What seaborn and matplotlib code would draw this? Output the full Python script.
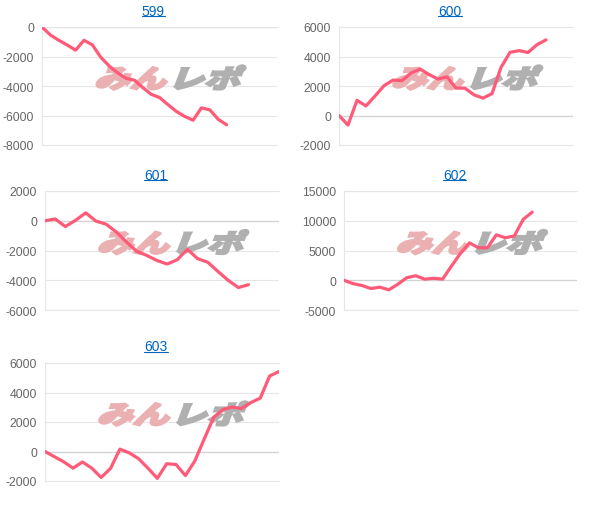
import numpy as np
import pandas as pd
import matplotlib
matplotlib.use("Agg")
import matplotlib.pyplot as plt
import seaborn as sns
from matplotlib.textpath import TextPath
from matplotlib.font_manager import FontProperties
from matplotlib.patches import PathPatch
from matplotlib.transforms import Affine2D, ScaledTranslation, IdentityTransform
from matplotlib.lines import Line2D

# data
titles = ['599', '600', '601', '602', '603']
s599 = [0, -540, -900, -1220, -1570, -900, -1210, -2050, -2640, -3100, -3480, -3600,
        -4100, -4560, -4780, -5260, -5720, -6060, -6320, -5480, -5620, -6260, -6630]
s600 = [0, -650, 1030, 650, 1320, 2020, 2400, 2360, 2880, 3150, 2780, 2470, 2620,
        1860, 1850, 1400, 1180, 1480, 3260, 4280, 4400, 4270, 4800, 5130]
s601 = [0, 120, -390, 30, 530, -20, -230, -750, -1420, -2050, -2330, -2670, -2910,
        -2620, -1920, -2550, -2790, -3410, -4000, -4490, -4300]
s602 = [0, -570, -880, -1390, -1160, -1610, -680, 420, 760, 190, 330, 190, 2400,
        4530, 6280, 5460, 5460, 7630, 7150, 7430, 10230, 11450]
s603 = [0, -350, -700, -1130, -710, -1130, -1760, -1150, 160, -90, -490, -1130, -1820,
        -830, -880, -1630, -650, 830, 2290, 2850, 3010, 2920, 3320, 3620, 5120, 5420]
series = [s599, s600, s601, s602, s603]
n_days = [29, 27, 24, 27, 26]
ylims = [(-8000, 0), (-2000, 6000), (-6000, 2000), (-5000, 15000), (-2000, 6000)]
ysteps = [2000, 2000, 2000, 5000, 2000]

# layout in pixels: left, top, right, bottom
W, H = 599, 510
boxes = [(42, 28, 277, 146), (339, 28, 573, 146), (45, 192, 279, 311),
         (344, 192, 577, 311), (45, 364, 279, 482)]

RED = '#ff5a78'
GRID = '#e6e6e6'

sns.set_style("white")
plt.rcParams['font.family'] = ['Liberation Sans', 'DejaVu Sans']

fig = plt.figure(figsize=(W / 100, H / 100), dpi=100)
wm_font = FontProperties(family='Noto Sans CJK JP', weight='black')


def watermark(ax):
    # fake logo: heavy slanted text, pink + gray
    for txt, col, dx in [('みん', '#eab0b2', 0.0), ('レポ', '#b0b0b0', 0.74)]:
        tp = TextPath((0, 0), txt, size=1, prop=wm_font)
        tr = (Affine2D().skew_deg(15, 0).scale(0.36, 0.255).translate(dx, 0)
              + fig.dpi_scale_trans + ScaledTranslation(0.22, 0.485, ax.transAxes))
        ax.add_patch(PathPatch(tp, transform=tr, facecolor=col, edgecolor=col,
                               lw=1.6, joinstyle='miter', zorder=1))


axes = []
for i, vals in enumerate(series):
    l, t, r, b = boxes[i]
    ax = fig.add_axes([l / W, 1 - b / H, (r - l) / W, (b - t) / H])
    axes.append(ax)
    df = pd.DataFrame({'day': np.arange(len(vals)), 'diff': vals})
    watermark(ax)
    sns.lineplot(data=df, x='day', y='diff', ax=ax, color=RED, linewidth=2.3,
                 solid_joinstyle='round', solid_capstyle='round', zorder=3)
    ax.set_xlim(0, n_days[i] - 1)
    lo, hi = ylims[i]
    ax.set_ylim(lo, hi)
    ax.set_yticks(np.arange(lo, hi + 1, ysteps[i]))
    ax.set_yticklabels([str(int(v)) for v in np.arange(lo, hi + 1, ysteps[i])])
    ax.set_xticks([])
    ax.set_xlabel('')
    ax.set_ylabel('')
    ax.yaxis.grid(True, color=GRID, lw=0.8, zorder=0)
    ax.axhline(0, color='#d2d2d2', lw=0.9, zorder=1.5)
    ax.tick_params(axis='y', length=3.6, width=0.8, color=GRID, labelcolor='#666666',
                   labelsize=8.8, pad=2)
    for side in ['left', 'top', 'bottom']:
        ax.spines[side].set_color(GRID)
        ax.spines[side].set_linewidth(0.8)
    ax.spines['right'].set_visible(False)
    ax.set_title(titles[i], x=0.474, pad=9, fontsize=10, color='#0066c0')

# underline the titles like links
fig.canvas.draw()
for ax in axes:
    bb = ax.title.get_window_extent()
    fig.add_artist(Line2D([bb.x0, bb.x1], [bb.y0 + 2, bb.y0 + 2], transform=IdentityTransform(),
                          color='#0066c0', lw=0.8))

fig.savefig('out.png', dpi=100)
